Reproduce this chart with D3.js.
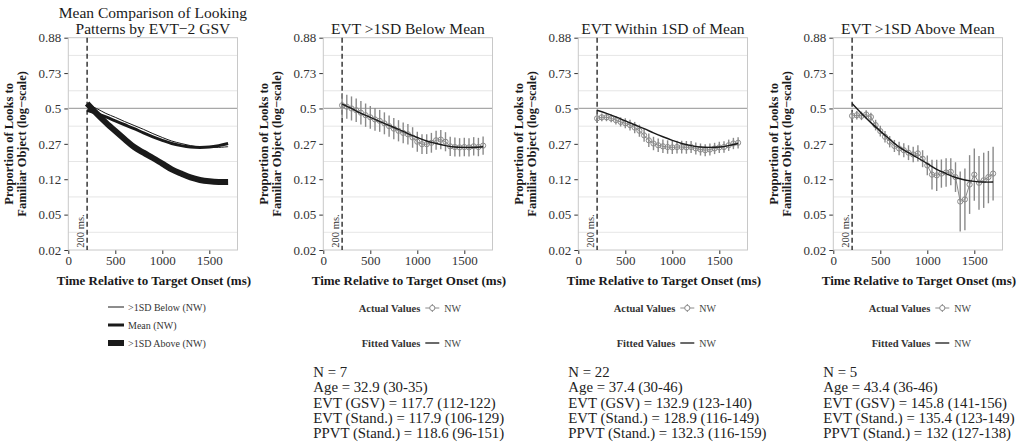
<!DOCTYPE html>
<html>
<head>
<meta charset="utf-8">
<script src="https://cdn.jsdelivr.net/npm/d3@7"></script>
<style>
  body { margin: 0; background: #fff; }
  svg { display: block; }
  svg text { font-family: "Liberation Serif", "Times New Roman", serif; }
</style>
</head>
<body>
<div id="main"></div>
<script>
const Width = 1020, Height = 444;

// tick positions are log-odds, labels are the back-transformed proportions
const yTicks = [2, 1, 0, -1, -2, -3, -4];
const yTickLabels = ["0.88", "0.73", "0.5", "0.27", "0.12", "0.05", "0.02"];
const yMinor = [1.5, 0.5, -0.5, -1.5, -2.5, -3.5];
const xTicks = [0, 500, 1000, 1500];

// time bins of the observed values (ms)
const bins = [200, 250, 300, 350, 400, 450, 500, 550, 600, 650, 700, 750, 800, 850, 900, 950,
    1000, 1050, 1100, 1150, 1200, 1250, 1300, 1350, 1400, 1450, 1500, 1550, 1600, 1650, 1700];
// times of the fitted curves (ms)
const fitTimes = [200, 300, 400, 500, 600, 700, 800, 900, 1000, 1100, 1200, 1300, 1400, 1500, 1600, 1700];

// fitted values, log-odds
const fitBelow = [0.12, 0.00, -0.14, -0.25, -0.37, -0.48, -0.59, -0.71, -0.82, -0.92, -0.99, -1.05, -1.09, -1.10, -1.10, -1.08];
const fitMean = [-0.05, -0.14, -0.24, -0.35, -0.46, -0.57, -0.69, -0.80, -0.90, -0.99, -1.05, -1.09, -1.10, -1.09, -1.05, -0.99];
const fitAbove = [0.14, -0.14, -0.40, -0.64, -0.87, -1.09, -1.25, -1.40, -1.56, -1.72, -1.84, -1.95, -2.02, -2.06, -2.08, -2.08];

// actual values (log-odds) and error bar half widths
const actBelow = [0.09, 0.05, 0.00, -0.05, -0.12, -0.19, -0.25, -0.31, -0.35, -0.42, -0.50, -0.57, -0.63, -0.69, -0.73, -0.82,
    -0.94, -1.01, -1.01, -0.97, -0.90, -0.88, -0.94, -1.07, -1.09, -1.10, -1.09, -1.10, -1.07, -1.09, -1.05];
const errBelow = [0.35, 0.34, 0.34, 0.33, 0.33, 0.33, 0.32, 0.32, 0.31, 0.31, 0.30, 0.30, 0.30, 0.29, 0.29, 0.29,
    0.28, 0.28, 0.28, 0.28, 0.27, 0.27, 0.27, 0.27, 0.27, 0.26, 0.26, 0.26, 0.26, 0.26, 0.26];

const actMean = [-0.28, -0.25, -0.25, -0.28, -0.33, -0.38, -0.42, -0.47, -0.54, -0.63, -0.76, -0.90, -0.99, -1.04, -1.07, -1.09,
    -1.10, -1.09, -1.09, -1.10, -1.09, -1.13, -1.16, -1.18, -1.16, -1.13, -1.10, -1.09, -1.04, -0.99, -0.97];
const errMean = [0.11, 0.11, 0.11, 0.11, 0.12, 0.13, 0.14, 0.15, 0.16, 0.17, 0.18, 0.19, 0.19, 0.19, 0.19, 0.19,
    0.19, 0.18, 0.18, 0.18, 0.17, 0.17, 0.17, 0.17, 0.17, 0.16, 0.16, 0.16, 0.16, 0.16, 0.16];

const actAbove = [-0.21, -0.19, -0.21, -0.17, -0.24, -0.47, -0.64, -0.80, -0.94, -1.06, -1.13, -1.18, -1.25, -1.30, -1.27, -1.42,
    -1.61, -1.87, -1.89, -1.84, -1.81, -1.79, -1.94, -2.63, -2.57, -2.15, -1.87, -2.10, -2.03, -1.94, -1.84];
const errAbove = [0.12, 0.12, 0.12, 0.12, 0.12, 0.15, 0.15, 0.16, 0.16, 0.17, 0.19, 0.20, 0.21, 0.22, 0.23, 0.24,
    0.28, 0.42, 0.44, 0.40, 0.40, 0.38, 0.42, 0.85, 0.87, 0.83, 0.74, 0.76, 0.78, 0.74, 0.76];

const titles = [["Mean Comparison of Looking", "Patterns by EVT\u22122 GSV"], ["EVT >1SD Below Mean"],
    ["EVT Within 1SD of Mean"], ["EVT >1SD Above Mean"]];

const statsBelow = ["N = 7", "Age = 32.9 (30-35)", "EVT (GSV) = 117.7 (112-122)", "EVT (Stand.) = 117.9 (106-129)", "PPVT (Stand.) = 118.6 (96-151)"];
const statsMean = ["N = 22", "Age = 37.4 (30-46)", "EVT (GSV) = 132.9 (123-140)", "EVT (Stand.) = 128.9 (116-149)", "PPVT (Stand.) = 132.3 (116-159)"];
const statsAbove = ["N = 5", "Age = 43.4 (36-46)", "EVT (GSV) = 145.8 (141-156)", "EVT (Stand.) = 135.4 (123-149)", "PPVT (Stand.) = 132 (127-138)"];

const compareNames = [">1SD Below (NW)", "Mean (NW)", ">1SD Above (NW)"];
const compareWidths = [1, 3, 6];

const svg = d3.select("#main")
    .append("svg")
    .attr("width", Width)
    .attr("height", Height);

const left0 = 68.3, step = 255, pw = 169.2, plotTop = 37.7, ph = 212.3;

const x = d3.scaleLinear().domain([0, 1800]).range([0, pw]);
const y = d3.scaleLinear().domain([-4, 2]).range([ph, 0]);

const ink = "#1a1a1a", gray = "#8a8a8a";

const line = d3.line().x(d => x(d[0])).y(d => y(d[1])).curve(d3.curveCatmullRom);

function zipFit(vals) { return fitTimes.map((t, i) => [t, vals[i]]); }

function panel(i) {
    const g = svg.append("g").attr("transform", `translate(${left0 + step * i},${plotTop})`);

    g.append("rect").attr("width", pw).attr("height", ph).attr("fill", "#fff");
    g.selectAll(".minor").data(yMinor).enter().append("line")
        .attr("x1", 0).attr("x2", pw).attr("y1", d => y(d)).attr("y2", d => y(d))
        .attr("stroke", "#e6e6e6").attr("stroke-width", 1);
    g.append("line")
        .attr("x1", 0).attr("x2", pw).attr("y1", y(0)).attr("y2", y(0))
        .attr("stroke", "#a8a8a8").attr("stroke-width", 1.2);

    // axes
    const ya = g.append("g").call(d3.axisLeft(y).tickValues(yTicks).tickFormat((d, k) => yTickLabels[k]).tickSize(4).tickPadding(3));
    const xa = g.append("g").attr("transform", `translate(0,${ph})`)
        .call(d3.axisBottom(x).tickValues(xTicks).tickFormat(d3.format("d")).tickSize(4).tickPadding(2));
    [ya, xa].forEach(a => {
        a.select(".domain").remove();
        a.selectAll("line").attr("stroke", "#333");
        a.selectAll("text").attr("fill", "#333").style("font-size", "13px");
    });

    g.append("rect").attr("width", pw).attr("height", ph)
        .attr("fill", "none").attr("stroke", "#c8c8c8").attr("stroke-width", 1);

    // 200 ms marker
    g.append("line").attr("x1", x(200)).attr("x2", x(200)).attr("y1", 0).attr("y2", ph)
        .attr("stroke", ink).attr("stroke-width", 1.3).attr("stroke-dasharray", "5,3");
    g.append("text").attr("transform", `translate(${x(200) - 3},${ph - 19}) rotate(-90)`)
        .attr("text-anchor", "middle").style("font-size", "10.5px").attr("fill", "#333")
        .text("200 ms.");

    // titles
    const tt = titles[i];
    tt.forEach((s, k) => {
        g.append("text").attr("x", pw / 2).attr("y", -4 - 16 * (tt.length - 1 - k))
            .attr("text-anchor", "middle").style("font-size", "15.5px").attr("fill", ink).text(s);
    });
    const yl = g.append("text").attr("transform", `translate(-55,${ph / 2}) rotate(-90)`)
        .attr("text-anchor", "middle").style("font-size", "12.5px").style("font-weight", "bold").attr("fill", ink);
    yl.append("tspan").attr("x", 0).attr("dy", 0).text("Proportion of Looks to");
    yl.append("tspan").attr("x", 0).attr("dy", 12.5).text("Familiar Object (log\u2212scale)");
    g.append("text").attr("x", pw / 2 + 1).attr("y", ph + 35).attr("text-anchor", "middle")
        .style("font-size", "13px").style("font-weight", "bold").attr("fill", ink)
        .text("Time Relative to Target Onset (ms)");
    return g;
}

// panel 1: fitted curves compared
const g0 = panel(0);
[fitBelow, fitMean, fitAbove].forEach((vals, k) => {
    g0.append("path").datum(zipFit(vals)).attr("d", line)
        .attr("fill", "none").attr("stroke", ink).attr("stroke-width", compareWidths[k]);
});
const lg = svg.append("g").attr("transform", "translate(108,307)");
compareNames.forEach((s, k) => {
    lg.append("line").attr("x1", 0).attr("x2", 16).attr("y1", 18 * k).attr("y2", 18 * k)
        .attr("stroke", ink).attr("stroke-width", compareWidths[k]);
    lg.append("text").attr("x", 20).attr("y", 18 * k + 3.5).style("font-size", "10px").attr("fill", "#333").text(s);
});

// panels 2-4: observed values with error bars plus fitted curve
const groups = [
    {act: actBelow, err: errBelow, fit: fitBelow, stats: statsBelow},
    {act: actMean, err: errMean, fit: fitMean, stats: statsMean},
    {act: actAbove, err: errAbove, fit: fitAbove, stats: statsAbove}
];

groups.forEach((grp, k) => {
    const g = panel(k + 1);
    const pts = bins.map((t, i) => ({t: t, v: grp.act[i], e: grp.err[i]}));
    g.selectAll(".eb").data(pts).enter().append("line")
        .attr("x1", d => x(d.t)).attr("x2", d => x(d.t))
        .attr("y1", d => y(d.v - d.e)).attr("y2", d => y(d.v + d.e))
        .attr("stroke", gray).attr("stroke-width", 1.4);
    g.append("path").datum(pts.map(d => [d.t, d.v])).attr("d", d3.line().x(d => x(d[0])).y(d => y(d[1])))
        .attr("fill", "none").attr("stroke", gray).attr("stroke-width", 1);
    g.selectAll(".pt").data(pts).enter().append("circle")
        .attr("cx", d => x(d.t)).attr("cy", d => y(d.v)).attr("r", 2.6)
        .attr("fill", "none").attr("stroke", gray).attr("stroke-width", 1);
    g.append("path").datum(zipFit(grp.fit)).attr("d", line)
        .attr("fill", "none").attr("stroke", ink).attr("stroke-width", 1.4);

    const ox = left0 + step * (k + 1);
    const lg = svg.append("g").attr("transform", `translate(${ox},0)`);
    lg.append("text").attr("x", 97).attr("y", 311.5).attr("text-anchor", "end")
        .style("font-size", "10.5px").style("font-weight", "bold").attr("fill", "#333").text("Actual Values");
    lg.append("line").attr("x1", 102).attr("x2", 116).attr("y1", 308).attr("y2", 308).attr("stroke", gray);
    lg.append("line").attr("x1", 109).attr("x2", 109).attr("y1", 304).attr("y2", 312).attr("stroke", gray);
    lg.append("circle").attr("cx", 109).attr("cy", 308).attr("r", 2.6).attr("fill", "#fff").attr("stroke", gray);
    lg.append("text").attr("x", 121).attr("y", 311.5).style("font-size", "10px").attr("fill", "#444").text("NW");
    lg.append("text").attr("x", 97).attr("y", 346.5).attr("text-anchor", "end")
        .style("font-size", "10.5px").style("font-weight", "bold").attr("fill", "#333").text("Fitted Values");
    lg.append("line").attr("x1", 102).attr("x2", 116).attr("y1", 343).attr("y2", 343).attr("stroke", ink).attr("stroke-width", 1.3);
    lg.append("text").attr("x", 121).attr("y", 346.5).style("font-size", "10px").attr("fill", "#444").text("NW");

    grp.stats.forEach((s, j) => {
        lg.append("text").attr("x", -10).attr("y", 377 + 15.3 * j)
            .style("font-size", "14.8px").attr("fill", "#222").text(s);
    });
});
</script>
</body>
</html>
